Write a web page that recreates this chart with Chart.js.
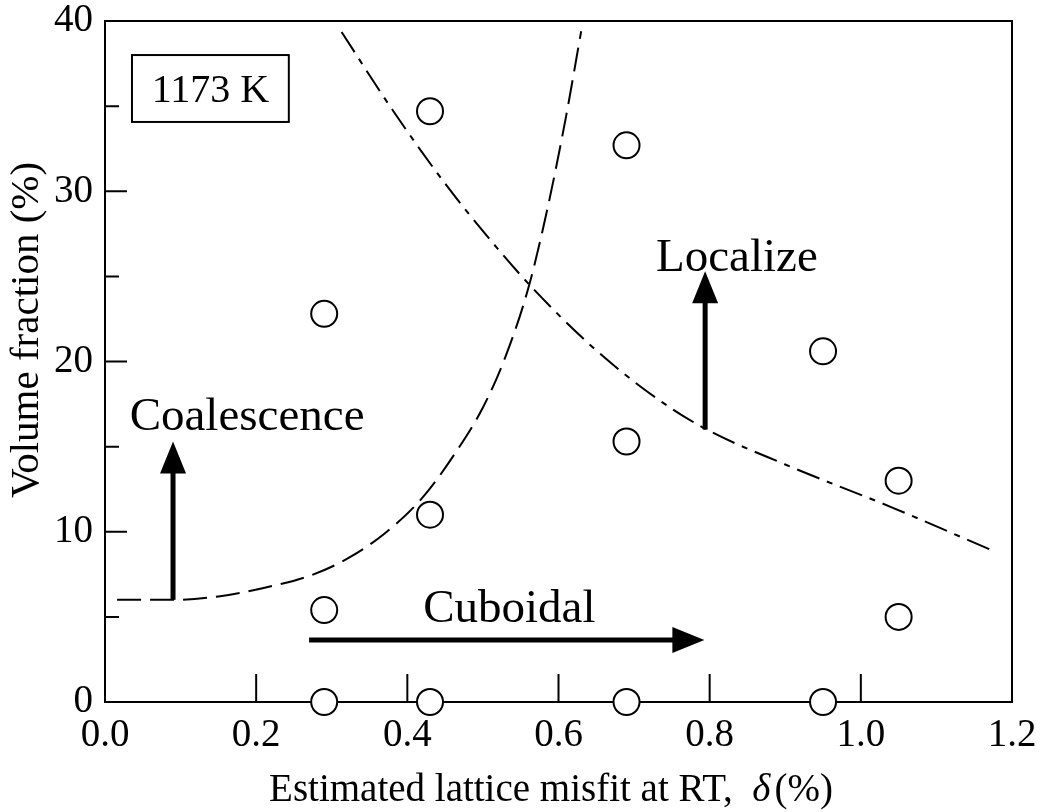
<!DOCTYPE html>
<html>
<head>
<meta charset="utf-8">
<script src="https://cdn.jsdelivr.net/npm/chart.js@4/dist/chart.umd.min.js"></script>
<style>
  html, body { margin: 0; padding: 0; background: #fff; }
  canvas { display: block; }
</style>
</head>
<body>
<canvas id="chart" width="1046" height="812"></canvas>
<script>
// ===== data =====
// open circles: misfit (%) vs volume fraction (%)
const pointX = [0.29, 0.29, 0.29, 0.43, 0.43, 0.43, 0.69, 0.69, 0.69, 0.95, 0.95, 1.05, 1.05];
const pointY = [0, 5.4, 22.8, 0, 11.0, 34.7, 0, 15.3, 32.7, 0, 20.6, 5.0, 13.0];

// dashed boundary (coalescence side)
const dashX = [0.016, 0.09, 0.15, 0.21, 0.27, 0.32, 0.37, 0.42, 0.46, 0.50, 0.53, 0.56, 0.585, 0.61, 0.63];
const dashY = [6.0, 6.0, 6.2, 6.7, 7.4, 8.4, 9.9, 12.0, 14.4, 17.3, 20.3, 24.3, 28.9, 34.4, 39.4];

// dash-dot boundary (localize side)
const dotX = [0.313, 0.38, 0.45, 0.52, 0.566, 0.64, 0.72, 0.79, 0.90, 1.04, 1.179];
const dotY = [39.35, 34.8, 30.45, 26.6, 24.3, 21.05, 18.15, 16.15, 13.95, 11.45, 8.8];

// arrows, [start, tip]
const coalArrowX = [0.09, 0.09];
const coalArrowY = [6.0, 15.3];
const locArrowX = [0.794, 0.794];
const locArrowY = [16.0, 25.3];
const cubArrowX = [0.27, 0.793];
const cubArrowY = [3.64, 3.64];

// region labels
const labelText = ["Coalescence", "Localize", "Cuboidal"];
const labelX = [0.188, 0.836, 0.535];
const labelY = [16.0, 25.3, 4.7];

// temperature box
const tempText = "1173 K";
const tempBoxX = [0.0357, 0.2432];
const tempBoxY = [34.07, 38.0];

const xTicks = { min: 0, max: 1.2, step: 0.2 };
const yTicks = { min: 0, max: 40, step: 10 };

const serif = '"Liberation Serif", "Times New Roman", serif';

function zip(xs, ys) {
  return xs.map((x, i) => ({ x: x, y: ys[i] }));
}

// frame and inward ticks, drawn under the circles
const framePlugin = {
  id: "frame",
  beforeDatasetsDraw(chart) {
    const { ctx, chartArea: a, scales } = chart;
    ctx.save();
    ctx.strokeStyle = "#000";
    ctx.lineWidth = 2;
    ctx.strokeRect(a.left, a.top, a.right - a.left, a.bottom - a.top);

    ctx.beginPath();
    scales.x.ticks.forEach(t => {
      const px = scales.x.getPixelForValue(t.value);
      ctx.moveTo(px, a.bottom);
      ctx.lineTo(px, a.bottom - 28);
    });
    const yt = scales.y.ticks;
    yt.forEach((t, i) => {
      const py = scales.y.getPixelForValue(t.value);
      ctx.moveTo(a.left, py);
      ctx.lineTo(a.left + 22, py);
      if (i < yt.length - 1) {
        const pm = scales.y.getPixelForValue((t.value + yt[i + 1].value) / 2);
        ctx.moveTo(a.left, pm);
        ctx.lineTo(a.left + 14, pm);
      }
    });
    ctx.stroke();
    ctx.restore();
  }
};

// arrows, labels, box, axis titles
const notesPlugin = {
  id: "notes",
  afterDatasetsDraw(chart) {
    const { ctx, scales } = chart;
    const sx = v => scales.x.getPixelForValue(v);
    const sy = v => scales.y.getPixelForValue(v);
    ctx.save();
    ctx.fillStyle = "#000";
    ctx.strokeStyle = "#000";

    chart.data.datasets.forEach((ds, i) => {
      if (!ds.arrow) return;
      const pts = chart.getDatasetMeta(i).data;
      const x0 = pts[0].x, y0 = pts[0].y, x1 = pts[1].x, y1 = pts[1].y;
      const len = Math.hypot(x1 - x0, y1 - y0);
      const ux = (x1 - x0) / len, uy = (y1 - y0) / len;
      const headL = 32, headW = 13;
      const bx = x1 - ux * headL, by = y1 - uy * headL;
      ctx.lineWidth = 5;
      ctx.beginPath();
      ctx.moveTo(x0, y0);
      ctx.lineTo(bx + ux, by + uy);
      ctx.stroke();
      ctx.beginPath();
      ctx.moveTo(x1, y1);
      ctx.lineTo(bx - uy * headW, by + ux * headW);
      ctx.lineTo(bx + uy * headW, by - ux * headW);
      ctx.closePath();
      ctx.fill();
    });

    ctx.font = "47px " + serif;
    ctx.textAlign = "center";
    ctx.textBaseline = "alphabetic";
    labelText.forEach((t, i) => ctx.fillText(t, sx(labelX[i]), sy(labelY[i])));

    const bl = sx(tempBoxX[0]), br = sx(tempBoxX[1]);
    const bt = sy(tempBoxY[1]), bb = sy(tempBoxY[0]);
    ctx.fillStyle = "#fff";
    ctx.fillRect(bl, bt, br - bl, bb - bt);
    ctx.fillStyle = "#000";
    ctx.lineWidth = 2;
    ctx.strokeRect(bl, bt, br - bl, bb - bt);
    ctx.font = "40px " + serif;
    ctx.fillText(tempText, (bl + br) / 2, (bt + bb) / 2 + 13);

    // x title with italic delta
    const parts = [
      ["Estimated lattice misfit at RT,  ", "39px " + serif, 0],
      ["\u03b4", "italic 39px " + serif, 4],
      ["(%)", "39px " + serif, 0]
    ];
    let total = 0;
    parts.forEach(p => { ctx.font = p[1]; total += ctx.measureText(p[0]).width + p[2]; });
    let cx = 551 - total / 2;
    ctx.textAlign = "left";
    parts.forEach(p => {
      ctx.font = p[1];
      ctx.fillText(p[0], cx, 801);
      cx += ctx.measureText(p[0]).width + p[2];
    });

    // y title
    ctx.translate(38, 330);
    ctx.rotate(-Math.PI / 2);
    ctx.textAlign = "center";
    ctx.font = "41px " + serif;
    ctx.fillText("Volume fraction (%)", 0, 0);
    ctx.restore();
  }
};

const lineBase = {
  showLine: true,
  borderColor: "#000",
  borderWidth: 2,
  pointRadius: 0,
  cubicInterpolationMode: "monotone"
};

new Chart(document.getElementById("chart"), {
  type: "scatter",
  data: {
    datasets: [
      Object.assign({ data: zip(dashX, dashY), borderDash: [24, 9] }, lineBase),
      Object.assign({ data: zip(dotX, dotY), borderDash: [24, 8, 6, 8] }, lineBase),
      {
        data: zip(pointX, pointY),
        pointRadius: 13,
        pointBorderWidth: 2,
        pointBackgroundColor: "#fff",
        pointBorderColor: "#000",
        pointHoverRadius: 13,
        clip: false
      },
      { data: zip(coalArrowX, coalArrowY), arrow: true, showLine: false, pointRadius: 0 },
      { data: zip(locArrowX, locArrowY), arrow: true, showLine: false, pointRadius: 0 },
      { data: zip(cubArrowX, cubArrowY), arrow: true, showLine: false, pointRadius: 0 }
    ]
  },
  options: {
    responsive: false,
    animation: false,
    events: [],
    layout: { padding: { left: 0, top: 21, right: 34, bottom: 0 } },
    plugins: { legend: { display: false }, tooltip: { enabled: false } },
    scales: {
      x: {
        type: "linear",
        min: xTicks.min,
        max: xTicks.max,
        grid: { display: false, drawTicks: false },
        border: { display: false },
        ticks: {
          stepSize: xTicks.step,
          padding: 14,
          color: "#000",
          font: { family: serif, size: 39, lineHeight: 1 },
          maxRotation: 0,
          callback: v => v.toFixed(1)
        },
        afterFit: s => { s.height = 110; s.paddingLeft = 0; s.paddingRight = 0; }
      },
      y: {
        min: yTicks.min,
        max: yTicks.max,
        grid: { display: false, drawTicks: false },
        border: { display: false },
        ticks: {
          stepSize: yTicks.step,
          padding: 12,
          color: "#000",
          font: { family: serif, size: 39, lineHeight: 1 }
        },
        afterFit: s => { s.width = 105; s.paddingTop = 0; s.paddingBottom = 0; }
      }
    }
  },
  plugins: [framePlugin, notesPlugin]
});
</script>
</body>
</html>
